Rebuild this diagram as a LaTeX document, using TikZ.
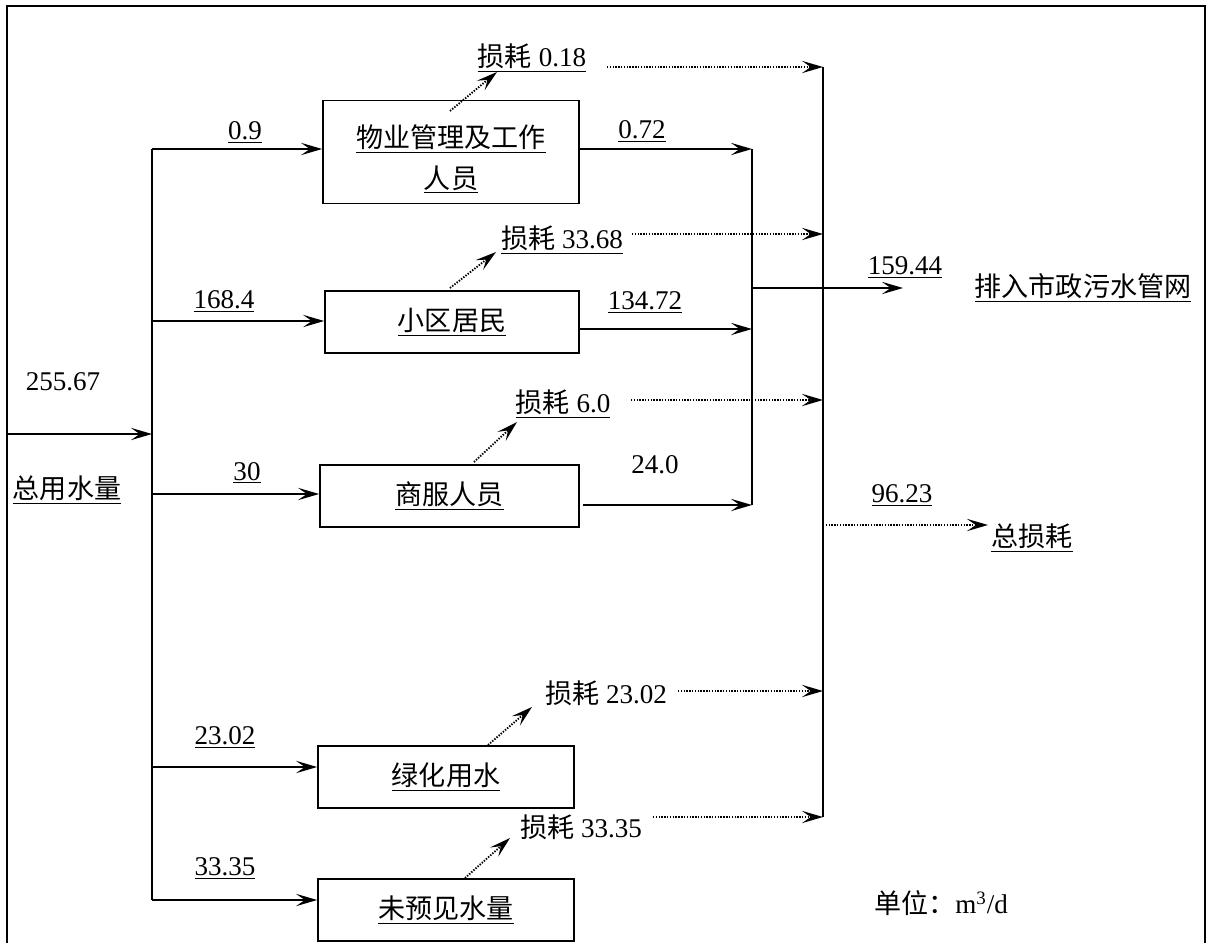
\documentclass[tikz,border=0pt]{standalone}
\usepackage{fontspec}
\setmainfont{Liberation Serif}
\newfontfamily\cjk{Noto Sans CJK SC}
\usetikzlibrary{arrows.meta}
\newcommand{\zh}[1]{{\cjk #1}}
\begin{document}
\begin{tikzpicture}[x=0.02cm,y=-0.02cm,
  every node/.style={font=\fontsize{15.4}{22.8}\selectfont, inner sep=0pt},
  box/.style={draw, line width=1pt, minimum width=5.12cm, minimum height=1.24cm, align=center},
  flow/.style={line width=1pt, -{Stealth[length=12pt,width=7pt,inset=5pt]}},
  lossflow/.style={flow, line width=1.05pt, dash pattern=on 0.8pt off 0.8pt},
  bus/.style={line width=1pt},
  frame/.style={line width=1.2pt}]
\useasboundingbox (0,0) rectangle (1207,943);
\draw[frame] (7,943) -- (7,6) -- (1205,6) -- (1205,943);

% input and trunk
\coordinate (in) at (7,434);
\coordinate (tr) at (152,434);
\coordinate (t1) at (152,149);
\coordinate (t2) at (152,321);
\coordinate (t3) at (152,494);
\coordinate (t4) at (152,767);
\coordinate (t5) at (152,900);
\draw[bus] (t1) -- (t5);
\draw[flow] (in) -- (tr);
\node (total) at (63,382) {255.67};
\node (totlab) at (67,490) {\zh{\underline{总用水量}}};

% boxes
\node[box, minimum height=2.06cm] (b1) at (451,152) {\rule{0pt}{21.5pt}\zh{\underline{物业管理及工作}}\\\zh{\underline{人员}}};
\node[box, minimum width=5.08cm] (b2) at (452,322) {\zh{\underline{小区居民}}};
\node[box, minimum width=5.18cm] (b3) at (449.5,496) {\zh{\underline{商服人员}}};
\node[box] (b4) at (446,777) {\zh{\underline{绿化用水}}};
\node[box] (b5) at (446,910) {\zh{\underline{未预见水量}}};

% inputs
\draw[flow] (t1) -- (t1 -| b1.west);
\draw[flow] (t2) -- (t2 -| b2.west);
\draw[flow] (t3) -- (t3 -| b3.west);
\draw[flow] (t4) -- (t4 -| b4.west);
\draw[flow] (t5) -- (t5 -| b5.west);
\node (v1) at (245,132) {\underline{0.9}};
\node (v2) at (224,301) {\underline{168.4}};
\node (v3) at (247,473) {\underline{30}};
\node (v4) at (225,737) {\underline{23.02}};
\node (v5) at (225,868) {\underline{33.35}};

% collector 1 (sewage)
\coordinate (c1a) at (752,149);
\coordinate (o2) at (752,329);
\coordinate (c1b) at (752,505);
\draw[bus] (c1a) -- (c1b);
\draw[flow] (b1.east |- c1a) -- (c1a);
\draw[flow] (b2.east |- o2) -- (o2);
\coordinate (o3) at (583,505);
\draw[flow] (o3) -- (c1b);
\node (w1) at (642,131) {\underline{0.72}};
\node (w2) at (645,302) {\underline{134.72}};
\node (w3) at (655,465) {24.0};

\coordinate (m1) at (752,288);
\coordinate (m2) at (903,288);
\draw[flow] (m1) -- (m2);
\node (v159) at (905,267) {\underline{159.44}};
\node (dest) at (1083,288) {\zh{\underline{排入市政污水管网}}};

% collector 2 (losses)
\coordinate (c2a) at (823,67);
\coordinate (c2b) at (823,817);
\draw[bus] (c2a) -- (c2b);

\node (L1) at (532,58) {\underline{\zh{损耗} 0.18}};
\coordinate (d1a) at (450,111); \coordinate (d1b) at (497,72);
\draw[lossflow] (d1a) -- (d1b);
\coordinate (h1) at (607,67);
\draw[lossflow] (h1) -- (c2a);

\node (L2) at (562,240) {\underline{\zh{损耗} 33.68}};
\coordinate (d2a) at (450,288); \coordinate (d2b) at (496,252);
\draw[lossflow] (d2a) -- (d2b);
\coordinate (h2) at (632,234); \coordinate (k2) at (823,234);
\draw[lossflow] (h2) -- (k2);

\node (L3) at (563,404) {\underline{\zh{损耗} 6.0}};
\coordinate (d3a) at (474,462); \coordinate (d3b) at (517,422);
\draw[lossflow] (d3a) -- (d3b);
\coordinate (h3) at (631,400); \coordinate (k3) at (823,400);
\draw[lossflow] (h3) -- (k3);

\node (L4) at (606,693) {\zh{损耗} 23.02};
\coordinate (d4a) at (488,745); \coordinate (d4b) at (532,707);
\draw[lossflow] (d4a) -- (d4b);
\coordinate (h4) at (678,691); \coordinate (k4) at (823,691);
\draw[lossflow] (h4) -- (k4);

\node (L5) at (581,827) {\zh{损耗} 33.35};
\coordinate (d5a) at (465,878); \coordinate (d5b) at (510,838);
\draw[lossflow] (d5a) -- (d5b);
\coordinate (h5) at (653,817);
\draw[lossflow] (h5) -- (c2b);

\coordinate (tl) at (823,525);
\coordinate (tle) at (988,525);
\draw[lossflow] (tl) -- (tle);
\node (v96) at (902,495) {\underline{96.23}};
\node (totloss) at (1032,538) {\zh{\underline{总损耗}}};

\node (unit) at (941,903) {\zh{单位：}m\textsuperscript{3}/d};
\end{tikzpicture}
\end{document}
